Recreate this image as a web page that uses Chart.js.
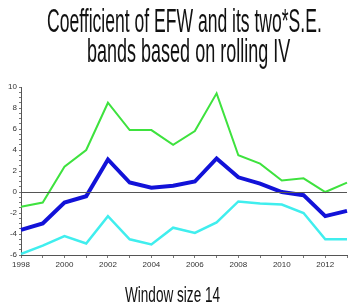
<!DOCTYPE html>
<html>
<head>
<meta charset="utf-8">
<script src="https://cdn.jsdelivr.net/npm/chart.js@4.4.1/dist/chart.umd.min.js"></script>
<style>
  html, body { margin: 0; padding: 0; background: #ffffff; }
  #wrap { position: relative; width: 359px; height: 308px; overflow: hidden; background: #fff; }
  #c { position: absolute; left: 0; top: 0; }
  .txt { position: absolute; left: 0; white-space: nowrap; transform-origin: 0 0;
         font-family: "Liberation Sans Narrow", "Liberation Sans", Arial, sans-serif; color: #111; }
</style>
</head>
<body>
<div id="wrap">
  <canvas id="c" width="359" height="308"></canvas>
  <div class="txt" id="t1" style="top:3.8px;font-size:33px;line-height:33px;"></div>
  <div class="txt" id="t2" style="top:34px;font-size:33px;line-height:33px;"></div>
  <div class="txt" id="t3" style="top:284.4px;font-size:22px;line-height:22px;"></div>
</div>
<script>
// ---- data ----
const years = [1998, 1999, 2000, 2001, 2002, 2003, 2004, 2005, 2006, 2007, 2008, 2009, 2010, 2011, 2012, 2013];
const upperBand = [-1.4, -1.0, 2.4, 4.0, 8.5, 5.9, 5.9, 4.5, 5.8, 9.4, 3.5, 2.7, 1.1, 1.3, 0.0, 0.9];
const coefficient = [-3.6, -3.0, -1.0, -0.4, 3.1, 0.9, 0.4, 0.6, 1.0, 3.2, 1.4, 0.8, 0.0, -0.3, -2.3, -1.8];
const lowerBand = [-5.9, -5.1, -4.2, -4.9, -2.3, -4.5, -5.0, -3.4, -3.9, -2.9, -0.9, -1.1, -1.2, -2.0, -4.5, -4.5];
const yTickLabels = [-6, -4, -2, 0, 2, 4, 6, 8, 10];
const titleLines = ["Coefficient of EFW and its two*S.E.", "bands based on rolling IV"];
const caption = "Window size 14";

// condensed text, fitted to the reference widths
function fitText(id, text, targetW, cx) {
  const el = document.getElementById(id);
  el.textContent = text;
  const w = el.offsetWidth;
  const s = targetW / w;
  el.style.transform = 'translateX(' + (cx - targetW / 2) + 'px) scaleX(' + s + ')';
}
fitText('t1', titleLines[0], 275, 184.5);
fitText('t2', titleLines[1], 203, 188.5);
fitText('t3', caption, 95, 172.5);

const zeroLine = {
  id: 'zeroLine',
  afterDatasetsDraw(chart) {
    const { ctx, chartArea, scales } = chart;
    const y = Math.round(scales.y.getPixelForValue(0)) + 0.5;
    ctx.save();
    ctx.strokeStyle = '#555555';
    ctx.lineWidth = 1;
    ctx.beginPath();
    ctx.moveTo(chartArea.left, y);
    ctx.lineTo(chartArea.right, y);
    ctx.stroke();
    ctx.restore();
  }
};

const tickFont = { family: '"Liberation Sans Narrow", "Liberation Sans", Arial, sans-serif', size: 8 };

new Chart(document.getElementById('c'), {
  type: 'line',
  data: {
    labels: years.map(String),
    datasets: [
      { label: 'Upper band', data: upperBand, borderColor: '#3ee23e', borderWidth: 2, pointRadius: 0, tension: 0, fill: false },
      { label: 'Lower band', data: lowerBand, borderColor: '#40eeee', borderWidth: 2.5, pointRadius: 0, tension: 0, fill: false },
      { label: 'Coefficient of EFW', data: coefficient, borderColor: '#1212d8', borderWidth: 4, pointRadius: 0, tension: 0, fill: false }
    ]
  },
  options: {
    responsive: false,
    animation: false,
    devicePixelRatio: 1,
    layout: { padding: { top: 87, right: 12, bottom: 0, left: 0 } },
    plugins: { legend: { display: false }, title: { display: false }, tooltip: { enabled: false } },
    scales: {
      x: {
        type: 'category',
        offset: false,
        afterFit(scale) { scale.height = 53; },
        border: { display: true, color: '#555555', width: 1 },
        grid: { display: true, drawOnChartArea: false, drawTicks: true, tickLength: 3, color: '#777777' },
        ticks: {
          autoSkip: false, maxRotation: 0, minRotation: 0, padding: 2, color: '#333333', font: tickFont,
          callback(val, i) { const yr = years[i]; return yr % 2 === 0 ? String(yr) : ''; }
        }
      },
      y: {
        min: -6, max: 10,
        afterFit(scale) { scale.width = 21; },
        border: { display: true, color: '#555555', width: 1 },
        grid: { display: true, drawOnChartArea: false, drawTicks: true, tickLength: 2, color: '#777777' },
        ticks: {
          stepSize: 0.5, maxTicksLimit: 100, autoSkip: false, padding: 2, color: '#333333', font: tickFont,
          callback(v) { return yTickLabels.includes(v) ? String(v) : ''; }
        }
      }
    }
  },
  plugins: [zeroLine]
});
</script>
</body>
</html>
